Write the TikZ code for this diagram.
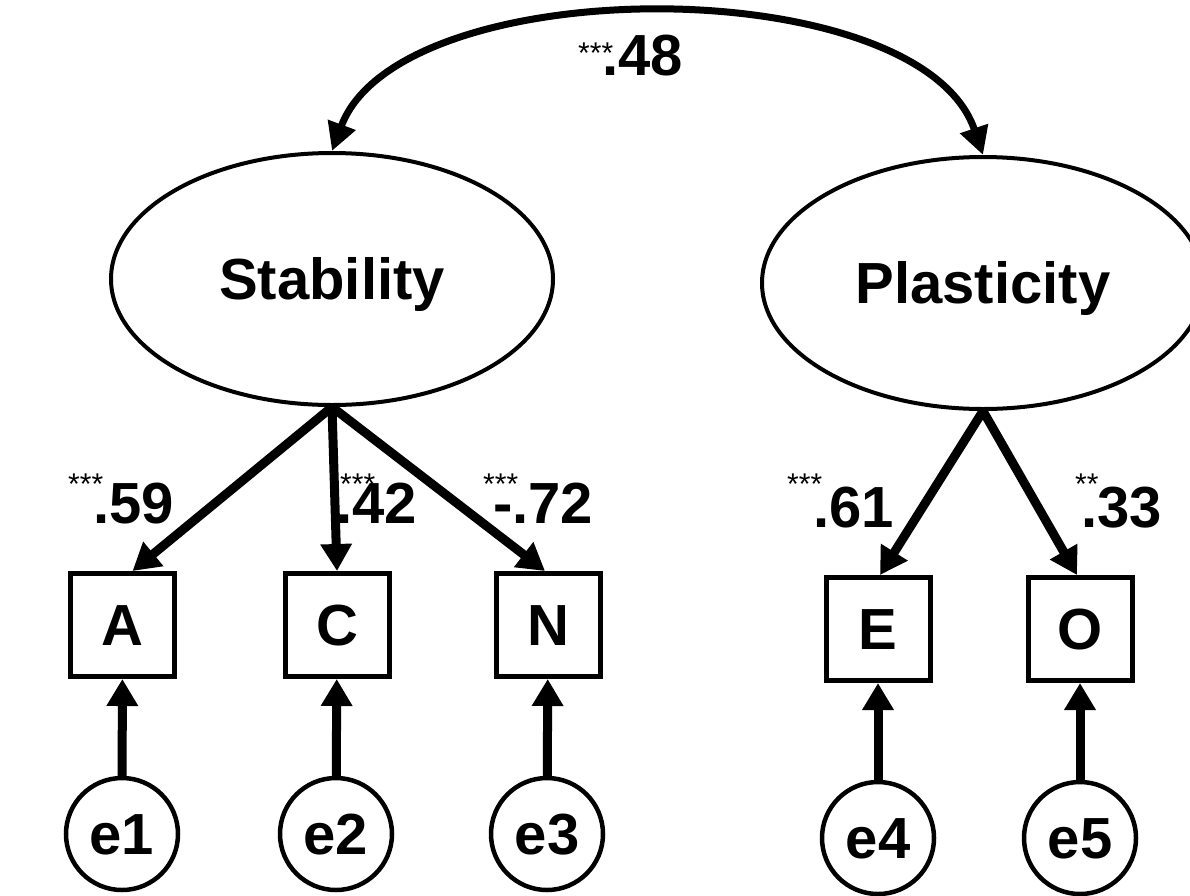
\documentclass[tikz,border=0pt]{standalone}
\usepackage{fontspec}
\setmainfont{Liberation Sans}
\usetikzlibrary{arrows.meta,shapes.geometric}
\begin{document}
\begin{tikzpicture}[x=1pt,y=-1pt,
  big/.style={font=\fontsize{58}{60}\bfseries\selectfont},
  latent/.style={draw,ellipse,line width=4pt,minimum width=442pt,minimum height=252pt,inner sep=0pt,big,text height=40pt,text depth=0pt},
  observed/.style={draw,rectangle,line width=5pt,minimum width=104pt,minimum height=103pt,inner sep=0pt,big,text height=40pt,text depth=0pt},
  errnode/.style={draw,circle,line width=4.5pt,minimum size=112pt,inner sep=0pt,big,text height=40pt,text depth=0pt},
  path/.style={line width=9pt,-{Triangle[width=30pt,length=27pt]}},
  cov/.style={line width=7pt,{Triangle[width=28pt,length=28pt]}-{Triangle[width=28pt,length=28pt]}},
  coef/.style={big,inner sep=0pt,anchor=base west},
  sig/.style={font=\fontsize{30}{32}\selectfont,inner sep=0pt,anchor=base west}]
\path[use as bounding box] (0,0) rectangle (1190,895);
\clip (0,0) rectangle (1190,895);

\node[latent] (S) at (332,279) {Stability};
\node[latent] (P) at (983,283) {Plasticity};

\node[observed] (A) at (122.5,625) {A};
\node[observed] (C) at (337,625) {C};
\node[observed] (N) at (548,625) {N};
\node[observed] (E) at (878,629) {E};
\node[observed] (O) at (1080,629) {O};

\node[errnode] (e1) at (122,834) {e1};
\node[errnode] (e2) at (336,834) {e2};
\node[errnode] (e3) at (547,834) {e3};
\node[errnode] (e4) at (878,838) {e4};
\node[errnode] (e5) at (1080,838) {e5};

\draw[cov] (S.north) .. controls (400,-31) and (920,-31) .. (P.north);

\draw[path] (S.south) -- ([xshift=10pt]A.north);
\draw[path] (S.south) -- (C.north);
\draw[path] (S.south) -- ([xshift=-3pt]N.north);
\draw[path] (P.south) -- ([xshift=2pt]E.north);
\draw[path] (P.south) -- ([xshift=-3pt]O.north);

\draw[path] (e1) -- (A);
\draw[path] (e2) -- (C);
\draw[path] (e3) -- (N);
\draw[path] (e4) -- (E);
\draw[path] (e5) -- (O);

\node[sig] (s48) at (578,63) {***};
\node[coef] (c48) at (602,75) {.48};
\node[sig] (s59) at (68,494) {***};
\node[coef] (c59) at (93,523) {.59};
\node[sig] (s42) at (340,494) {***};
\node[coef] (c42) at (336,523) {.42};
\node[sig] (s72) at (483,494) {***};
\node[coef] (c72) at (493,523) {-.72};
\node[sig] (s61) at (787,494) {***};
\node[coef] (c61) at (813,527) {.61};
\node[sig] (s33) at (1075,494) {**};
\node[coef] (c33) at (1081,527) {.33};
\end{tikzpicture}
\end{document}
